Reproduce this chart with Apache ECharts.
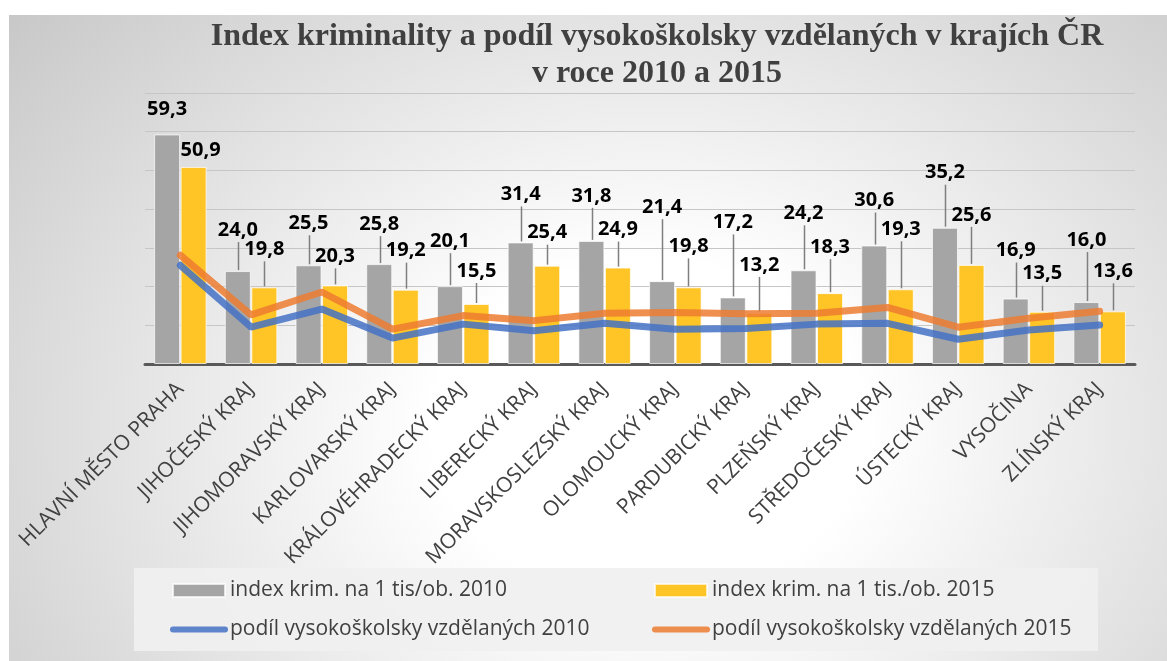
<!DOCTYPE html>
<html>
<head>
<meta charset="utf-8">
<script src="https://cdn.jsdelivr.net/npm/echarts@6/dist/echarts.min.js"></script>
<style>
html, body { margin: 0; padding: 0; background: #fff; }
#frame {
    position: absolute; left: 9px; top: 15px; width: 1158px; height: 646px;
    background: radial-gradient(ellipse 900px 700px at 640px 415px, #ffffff 0%, #ffffff 24%, #c2c2c2 100%);
}
#main { position: absolute; left: 0; top: 0; width: 1167px; height: 661px; }
</style>
</head>
<body>
<div id="frame"></div>
<div id="main"></div>
<script>
var myChart = echarts.init(document.getElementById('main'));

var kraje = ['HLAVNÍ MĚSTO PRAHA', 'JIHOČESKÝ KRAJ', 'JIHOMORAVSKÝ KRAJ', 'KARLOVARSKÝ KRAJ',
    'KRÁLOVÉHRADECKÝ KRAJ', 'LIBERECKÝ KRAJ', 'MORAVSKOSLEZSKÝ KRAJ', 'OLOMOUCKÝ KRAJ',
    'PARDUBICKÝ KRAJ', 'PLZEŇSKÝ KRAJ', 'STŘEDOČESKÝ KRAJ', 'ÚSTECKÝ KRAJ', 'VYSOČINA', 'ZLÍNSKÝ KRAJ'];
var krim2010 = [59.3, 24.0, 25.5, 25.8, 20.1, 31.4, 31.8, 21.4, 17.2, 24.2, 30.6, 35.2, 16.9, 16.0];
var krim2015 = [50.9, 19.8, 20.3, 19.2, 15.5, 25.4, 24.9, 19.8, 13.2, 18.3, 19.3, 25.6, 13.5, 13.6];
var vs2010 = [25.5, 9.5, 14.2, 6.7, 10.3, 8.6, 10.5, 9.0, 9.2, 10.3, 10.5, 6.4, 8.8, 10.1];
var vs2015 = [28.1, 12.7, 18.6, 9.0, 12.5, 11.2, 13.1, 13.3, 13.0, 13.1, 14.6, 9.5, 11.8, 13.6];

// how far each data label sits above its bar (px), as placed in the original
var lift2010 = [15, 31, 32, 30, 35, 38, 35, 64, 65, 47, 35, 45, 38, 52];
var lift2015 = [7, 28, 19, 29, 23, 23, 28, 31, 38, 36, 50, 40, 28, 30];

var names = ['index krim. na 1 tis/ob. 2010', 'index krim. na 1 tis./ob. 2015',
    'podíl vysokoškolsky vzdělaných 2010', 'podíl vysokoškolsky vzdělaných 2015'];

function fmt(p) {
    return p.value.toFixed(1).replace('.', ',');
}

function barData(values, lifts, dx) {
    return values.map(function (v, i) {
        return {
            value: v,
            label: { distance: lifts[i], offset: [i === 0 ? dx : 0, 0] }
        };
    });
}

// leader lines from bar tops up to the moved labels
function renderLeaders(params, api) {
    var i = api.value(0);
    if (i === 0) return;
    var bars = [[api.value(1), lift2010[i], -13], [api.value(2), lift2015[i], 13]];
    var children = bars.map(function (b) {
        var top = api.coord([i, b[0]]);
        var x = Math.round(top[0] + b[2]) + 0.5;
        return {
            type: 'line',
            shape: { x1: x, y1: top[1] - 1, x2: x, y2: top[1] - b[1] + 2 },
            style: { stroke: '#7f7f7f', lineWidth: 1.5 }
        };
    });
    return { type: 'group', children: children };
}

var barLabel = {
    show: true,
    position: 'top',
    fontFamily: 'Open Sans',
    fontWeight: 'bold',
    fontSize: 20,
    color: '#000',
    formatter: fmt
};
var legendText = { fontFamily: 'Open Sans', fontSize: 21, color: '#404040' };
var lineIcon = { itemStyle: { opacity: 0 }, lineStyle: { width: 6, cap: 'round' } };

option = {
    title: {
        text: 'Index kriminality a podíl vysokoškolsky vzdělaných v krajích ČR\nv roce 2010 a 2015',
        left: 657,
        top: 18,
        textAlign: 'center',
        padding: 0,
        textStyle: {
            fontFamily: 'Liberation Serif',
            fontWeight: 'bold',
            fontSize: 32,
            lineHeight: 37,
            color: '#404040'
        }
    },
    graphic: [{
        type: 'rect',
        z: 5,
        shape: { x: 134, y: 568, width: 964, height: 83 },
        style: { fill: 'rgba(240,240,240,0.92)' }
    }],
    legend: [{
        orient: 'vertical',
        left: 170,
        top: 580,
        padding: 0,
        z: 10,
        itemWidth: 52,
        itemHeight: 13,
        itemGap: 18,
        textStyle: legendText,
        data: [{ name: names[0], icon: 'rect' },
            Object.assign({ name: names[2] }, lineIcon)]
    }, {
        orient: 'vertical',
        left: 652,
        top: 580,
        padding: 0,
        z: 10,
        itemWidth: 52,
        itemHeight: 13,
        itemGap: 18,
        textStyle: legendText,
        data: [{ name: names[1], icon: 'rect' },
            Object.assign({ name: names[3] }, lineIcon)]
    }],
    grid: {
        left: 145,
        right: 32,
        top: 93,
        bottom: 297,
        containLabel: false,
        outerBoundsMode: 'none'
    },
    xAxis: {
        type: 'category',
        data: kraje,
        axisTick: { show: false },
        axisLine: { lineStyle: { color: '#595959', width: 3 } },
        axisLabel: {
            interval: 0,
            rotate: 45,
            margin: 22,
            fontFamily: 'Open Sans',
            fontSize: 21,
            color: '#404040'
        }
    },
    yAxis: {
        type: 'value',
        min: 0,
        max: 70,
        interval: 10,
        axisLabel: { show: false },
        axisLine: { show: false },
        axisTick: { show: false },
        splitLine: { lineStyle: { color: '#c6c6c6', width: 1 } }
    },
    series: [{
        name: names[0],
        type: 'bar',
        barWidth: 26,
        barGap: '2%',
        itemStyle: { color: '#A5A5A5', borderColor: 'rgba(255,255,255,0.7)', borderWidth: 1 },
        label: barLabel,
        data: barData(krim2010, lift2010, 0)
    }, {
        name: names[1],
        type: 'bar',
        barWidth: 26,
        itemStyle: { color: '#FFC425', borderColor: 'rgba(255,255,255,0.7)', borderWidth: 1 },
        label: barLabel,
        data: barData(krim2015, lift2015, 7)
    }, {
        type: 'custom',
        silent: true,
        z: 2,
        renderItem: renderLeaders,
        encode: { x: 0, y: [1, 2] },
        data: kraje.map(function (k, i) { return [i, krim2010[i], krim2015[i]]; })
    }, {
        name: names[2],
        type: 'line',
        symbol: 'none',
        z: 3,
        itemStyle: { color: '#4472C4' },
        lineStyle: { color: '#4472C4', width: 7, opacity: 0.85, cap: 'round' },
        data: vs2010
    }, {
        name: names[3],
        type: 'line',
        symbol: 'none',
        z: 3,
        itemStyle: { color: '#ED7D31' },
        lineStyle: { color: '#ED7D31', width: 7, opacity: 0.85, cap: 'round' },
        data: vs2015
    }]
};
myChart.setOption(option);
</script>
</body>
</html>
